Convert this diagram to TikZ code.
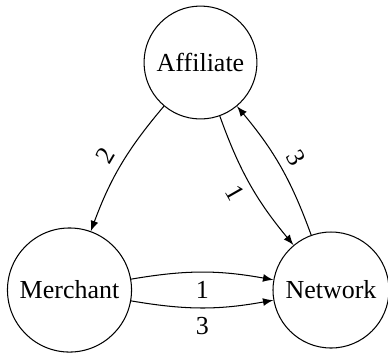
\documentclass[tikz,border=0pt]{standalone}
\usepackage{fontspec}
\setmainfont{Liberation Serif}
\usetikzlibrary{arrows}
\tikzset{party/.style={draw,circle,inner sep=3.7pt}}
\begin{document}
\begin{tikzpicture}[x=0.385pt,y=-0.385pt,>=latex]
\useasboundingbox (0,0) rectangle (388,353);
\draw (200.5,62.5) node(affiliate)[party] {Affiliate};
\draw (69.5,290) node(merchant)[party] {Merchant};
\draw (331,290) node(network)[party] {Network};
\draw[->] (affiliate) to[bend right=10] node[sloped,above] {2} (merchant);
\draw[->] (affiliate) to[bend right=10] node[sloped,below] {1} (network);
\draw[->] (network) to[bend right=10] node[sloped,above] {3} (affiliate);
\draw[->] (merchant) to[bend left=10] node[below] {1} (network);
\draw[->] (merchant) to[bend right=10] node[below] {3} (network);
\end{tikzpicture}
\end{document}
